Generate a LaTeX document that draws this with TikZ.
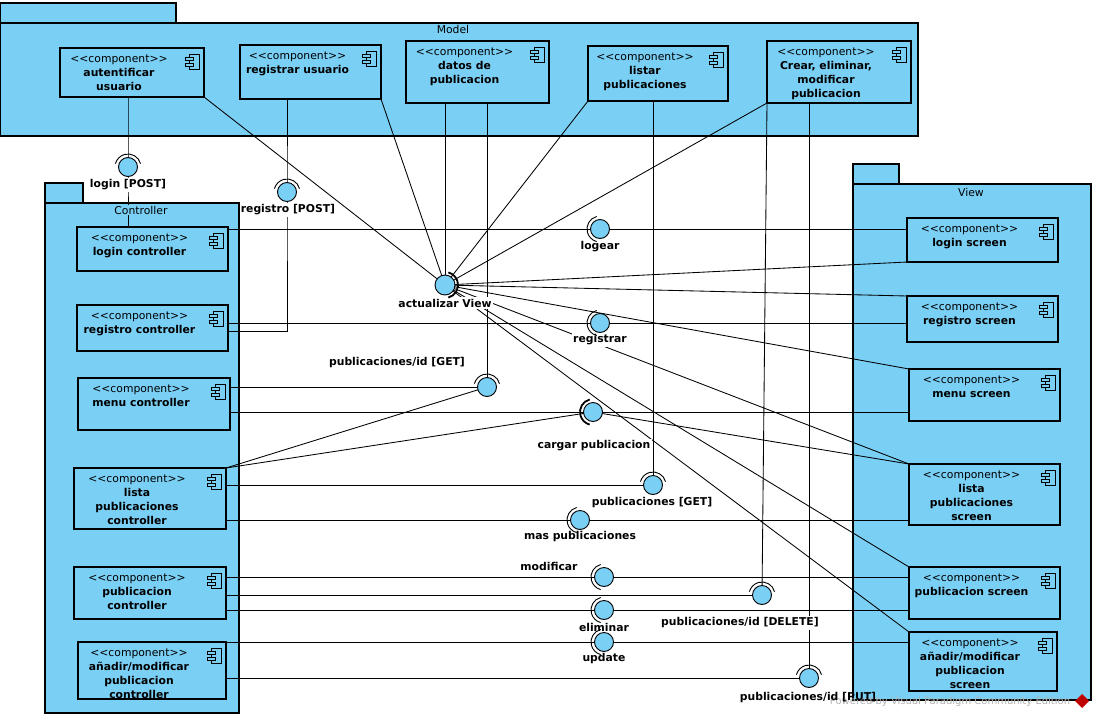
\documentclass[tikz,border=0pt]{standalone}
\usepackage{fontspec}
\setmainfont{DejaVu Sans}[Ligatures=TeXOff]
\usetikzlibrary{calc}
\definecolor{vpblue}{RGB}{122,207,245}
\newcommand\compbox[6]{%
  \node[comp, minimum width={(#4)-(#2)}, minimum height={(#5)-(#3)}] (#1) at ({((#2)+(#4))/2},{((#3)+(#5))/2}) {};
  \node[ctext] (#1-t) at ({((#2)+(#4))/2-13},{(#3)+4.5}) {\mdseries\rule{0pt}{10pt}<<component>>\\#6};
  \draw[icon] ({(#4)-15},{(#3)+6}) rectangle ({(#4)-5},{(#3)+21});
  \draw[icon] ({(#4)-19},{(#3)+9}) rectangle ({(#4)-11},{(#3)+12.5});
  \draw[icon] ({(#4)-19},{(#3)+15}) rectangle ({(#4)-11},{(#3)+18.5});
}
\newcommand\socktop[2][sock]{\draw[#1] (#2) ++(15:13pt) arc[start angle=15,end angle=165,radius=13pt];}
\newcommand\sockleft[2][sock]{\draw[#1] (#2) ++(105:13pt) arc[start angle=105,end angle=255,radius=13pt];}
\newcommand\sockright[2][sock]{\draw[#1] (#2) ++(-75:13pt) arc[start angle=-75,end angle=75,radius=13pt];}
\begin{document}
\begin{tikzpicture}[x=1pt,y=-1pt,
  pkg/.style={draw=black,fill=vpblue,line width=1.2pt},
  comp/.style={rectangle,draw=black,fill=vpblue,line width=1.1pt,inner sep=0pt,outer sep=0pt},
  ctext/.style={font=\fontsize{10.8}{14}\selectfont\bfseries,align=center,inner sep=0pt,anchor=north},
  icon/.style={draw=black,fill=vpblue,line width=0.8pt},
  conn/.style={draw=black,line width=0.85pt},
  ball/.style={circle,draw=black,fill=vpblue,line width=0.9pt,minimum size=19pt,inner sep=0pt},
  sock/.style={draw=black,line width=0.9pt},
  thicksock/.style={draw=black,line width=1.8pt},
  ilabel/.style={font=\fontsize{10.8}{13}\selectfont\bfseries,fill=white,inner sep=1.5pt},
  plabel/.style={font=\fontsize{10.8}{13}\selectfont,inner sep=1pt}]

\useasboundingbox (0,0) rectangle (1096,718);
\fill[white] (0,0) rectangle (1096,718);

% packages
\draw[pkg] (0,3) rectangle (176,23);
\draw[pkg] (0,23) rectangle (918,136);
\draw[pkg] (45,183) rectangle (83,203);
\draw[pkg] (45,203) rectangle (239,713);
\draw[pkg] (853,164) rectangle (899,184);
\draw[pkg] (853,184) rectangle (1091,700);
\node[plabel] (modelL) at (453,29) {Model};
\node[plabel] (viewL) at (971,192) {View};

% components: Model
\compbox{aut}{60}{48}{204}{97}{autentificar\\usuario}
\compbox{reg}{240}{45}{381}{99}{registrar usuario}
\compbox{dat}{406}{41}{549}{103}{datos de\\publicacion}
\compbox{lis}{588}{46}{728}{101}{listar\\publicaciones}
\compbox{cre}{767}{41}{911}{103}{Crear, eliminar,\\modificar\\publicacion}
% Controller
\compbox{lc}{77}{227}{228}{271}{login controller}
\compbox{rc}{77}{305}{228}{351}{registro controller}
\compbox{mc}{78}{378}{230}{430}{menu controller}
\compbox{lpc}{74}{468}{226}{529}{lista\\publicaciones\\controller}
\compbox{pc}{74}{567}{226}{619}{publicacion\\controller}
\compbox{amc}{78}{642}{226}{699}{añadir/modificar\\publicacion\\controller}
% View
\compbox{lsc}{907}{218}{1058}{262}{login screen}
\compbox{rsc}{907}{296}{1058}{342}{registro screen}
\compbox{msc}{909}{369}{1060}{421}{menu screen}
\compbox{lpsc}{909}{464}{1060}{525}{lista\\publicaciones\\screen}
\compbox{psc}{909}{567}{1060}{619}{publicacion screen}
\compbox{amsc}{909}{632}{1057}{691}{añadir/modificar\\publicacion\\screen}

% interface centres
\coordinate (lp) at (128,167);
\coordinate (rp) at (287,192);
\coordinate (logear) at (600,229);
\coordinate (av) at (445,285);
\coordinate (rg) at (600,323);
\coordinate (gid) at (487,387);
\coordinate (cp) at (593,412);
\coordinate (pg) at (653,485);
\coordinate (mp) at (580,520);
\coordinate (mo) at (604,577);
\coordinate (del) at (762,595);
\coordinate (el) at (604,610);
\coordinate (up) at (604,642);
\coordinate (put) at (809,678);

% connectors
\draw[conn] (aut.south -| lp) -- (lp) -- (lp |- lc.north);
\draw[conn] (reg.south -| rp) -- (rp) |- ($(rc.east)+(0,3)$);
\draw[conn] (lc.east |- logear) -- (lsc.west |- logear);
\foreach \c in {aut.south east,reg.south east,lis.south west,cre.south west} \draw[conn] (\c) -- (av);
\draw[conn] (dat.south -| av) -- (av);
\foreach \c in {lsc.south west,rsc.north west,msc.north west,lpsc.north west,psc.north west,amsc.north west} \draw[conn] (av) -- (\c);
\draw[conn] (rc.east |- rg) -- (rsc.west |- rg);
\draw[conn] (dat.south -| gid) -- (gid);
\draw[conn] (mc.east |- gid) -- (gid);
\draw[conn] (lpc.north east) -- (gid);
\draw[conn] (mc.east |- cp) -- (msc.west |- cp);
\draw[conn] (lpc.north east) -- (cp) -- (lpsc.north west);
\draw[conn] (lis.south -| pg) -- (pg);
\draw[conn] (lpc.east |- pg) -- (pg);
\draw[conn] (lpc.east |- mp) -- (lpsc.west |- mp);
\draw[conn] (pc.east |- mo) -- (psc.west |- mo);
\draw[conn] (cre.south west) -- (del);
\draw[conn] (pc.east |- del) -- (del);
\draw[conn] (pc.east |- el) -- (psc.west |- el);
\draw[conn] (amc.east |- up) -- (amsc.west |- up);
\draw[conn] (cre.south -| put) -- (put);
\draw[conn] (amc.east |- put) -- (put);

% watermark (behind the labels)
\node[font=\fontsize{10}{12}\selectfont,text=black!30,inner sep=0pt] (wm) at (950,702) {Powered by Visual Paradigm Community Edition};
\fill[red!75!black] (1082,694) -- (1089,701) -- (1082,708) -- (1075,701) -- cycle;

% labels
\node[ilabel] (lpL) at (128,185) {login [POST]};
\node[ilabel,inner xsep=0.5pt] (rpL) at (288,210) {registro [POST]};
\node[ilabel] (logearL) at (600,247) {logear};
\node[ilabel] (avL) at (445,303) {actualizar View};
\node[ilabel] (rgL) at (600,340) {registrar};
\node[ilabel] (gidL) at (397,363) {publicaciones/id [GET]};
\node[ilabel] (cpL) at (594,446) {cargar publicacion};
\node[ilabel] (pgL) at (652,503) {publicaciones [GET]};
\node[ilabel] (mpL) at (580,537) {mas publicaciones};
\node[ilabel] (moL) at (549,566) {modificar};
\node[ilabel] (delL) at (740,623) {publicaciones/id [DELETE]};
\node[ilabel] (elL) at (604,627) {eliminar};
\node[ilabel] (upL) at (604,659) {update};
\node[ilabel,fill=none] (putL) at (808,698) {publicaciones/id [PUT]};
\node[plabel,fill=vpblue] (ctrlL) at (141,210) {Controller};

% balls and sockets
\foreach \b in {lp,rp,logear,rg,gid,cp,pg,mp,mo,del,el,up,put} \node[ball] (\b-b) at (\b) {};
\node[ball,minimum size=20pt] (av-b) at (av) {};
\socktop{lp}
\socktop{rp}
\sockleft{logear}
\sockright[thicksock]{av}
\sockleft{rg}
\socktop{gid}
\sockleft[thicksock]{cp}
\socktop{pg}
\sockleft{mp}
\sockleft{mo}
\socktop{del}
\sockleft{el}
\sockleft{up}
\socktop{put}
\end{tikzpicture}
\end{document}
